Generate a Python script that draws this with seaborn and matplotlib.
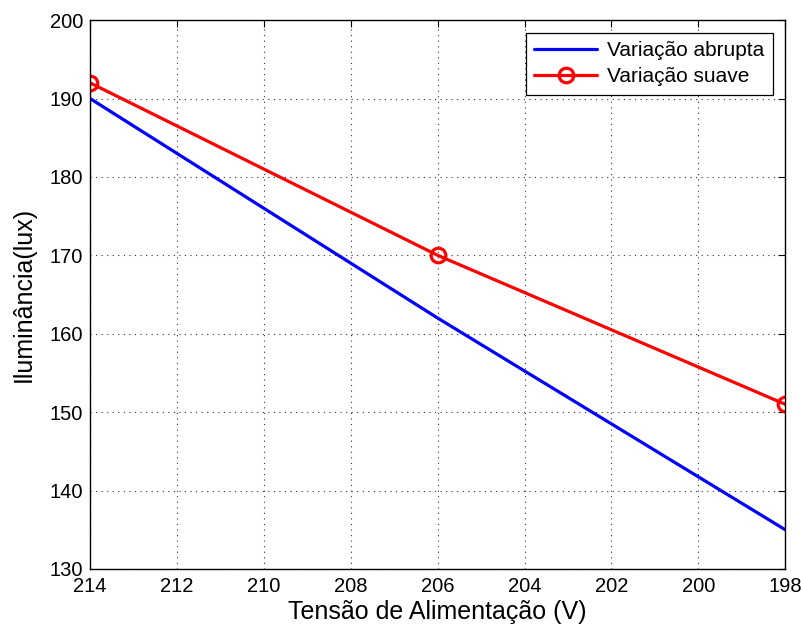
import matplotlib
matplotlib.use("Agg")
import matplotlib.pyplot as plt
import seaborn as sns
import pandas as pd

# Supply voltage (V) and measured illuminance (lux)
tensao = [214, 206, 198]
abrupta = [190, 162, 135]
suave = [192, 170, 151]
x_ticks = [214, 212, 210, 208, 206, 204, 202, 200, 198]
y_ticks = [130, 140, 150, 160, 170, 180, 190, 200]

sns.set_style("white")
plt.rcParams["font.family"] = ["Liberation Sans", "DejaVu Sans"]
plt.rcParams["text.color"] = "black"
plt.rcParams["axes.labelcolor"] = "black"

fig = plt.figure(figsize=(8.01, 6.28), dpi=100)
ax = fig.add_axes([0.1124, 0.094, 0.868, 0.874])

df_a = pd.DataFrame({"V": tensao, "lux": abrupta})
df_s = pd.DataFrame({"V": tensao, "lux": suave})

sns.lineplot(data=df_a, x="V", y="lux", ax=ax, color="#0000ff", lw=2.3,
             label="Variação abrupta")
sns.lineplot(data=df_s, x="V", y="lux", ax=ax, color="#ff0000", lw=2.3,
             marker="o", markersize=10.5, markerfacecolor="none",
             markeredgecolor="#ff0000", markeredgewidth=2.3,
             label="Variação suave")

ax.set_xlim(214, 198)
ax.set_ylim(130, 200)
ax.set_xticks(x_ticks)
ax.set_yticks(y_ticks)
ax.set_xticklabels([str(t) for t in x_ticks])
ax.set_yticklabels([str(t) for t in y_ticks])

ax.grid(True, linestyle=(0, (1, 4)), color="#333333", linewidth=0.8)
for s in ax.spines.values():
    s.set_visible(True)
    s.set_color("black")
    s.set_linewidth(1.0)

ax.tick_params(axis="both", direction="in", length=5, width=0.8, colors="black",
               labelsize=14.5, top=True, right=True)
ax.tick_params(axis="x", pad=6)
ax.tick_params(axis="y", pad=5)
ax.set_xlabel("Tensão de Alimentação (V)", fontsize=18, labelpad=3, color="black")
ax.set_ylabel("Iluminância(lux)", fontsize=18, labelpad=10, color="black")

leg = ax.legend(loc="upper right", fontsize=15, frameon=True, fancybox=False,
                edgecolor="black", framealpha=1, borderpad=0.4,
                handlelength=3.0, handletextpad=0.5, labelspacing=0.35,
                borderaxespad=0.6)
leg.get_frame().set_linewidth(0.9)
for t in leg.get_texts():
    t.set_color("black")

fig.savefig("out.png", dpi=100)
